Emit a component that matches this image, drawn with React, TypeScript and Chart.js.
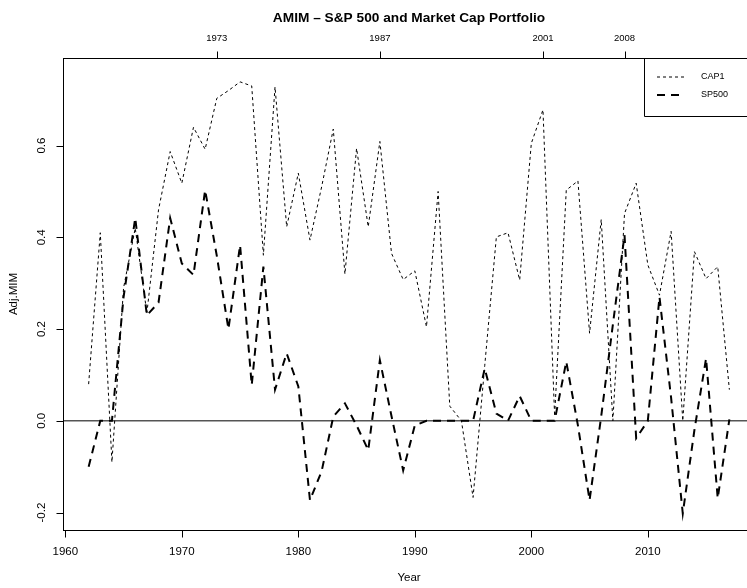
import React, { useEffect, useRef } from "react";
import { Chart, registerables } from "chart.js";

Chart.register(...registerables);

const years = [
  1962, 1963, 1964, 1965, 1966, 1967, 1968, 1969, 1970, 1971, 1972, 1973, 1974, 1975,
  1976, 1977, 1978, 1979, 1980, 1981, 1982, 1983, 1984, 1985, 1986, 1987, 1988, 1989,
  1990, 1991, 1992, 1993, 1994, 1995, 1996, 1997, 1998, 1999, 2000, 2001, 2002, 2003,
  2004, 2005, 2006, 2007, 2008, 2009, 2010, 2011, 2012, 2013, 2014, 2015, 2016, 2017,
];

const cap1 = [
  0.08, 0.41, -0.09, 0.29, 0.42, 0.235, 0.46, 0.587, 0.518, 0.64, 0.592, 0.703, 0.72, 0.739,
  0.73, 0.361, 0.728, 0.423, 0.54, 0.394, 0.51, 0.636, 0.32, 0.594, 0.423, 0.609, 0.365, 0.308,
  0.327, 0.205, 0.5, 0.032, 0.0, -0.167, 0.12, 0.401, 0.41, 0.307, 0.605, 0.678, 0.01, 0.503,
  0.523, 0.191, 0.439, 0.0, 0.452, 0.518, 0.34, 0.274, 0.413, 0.0, 0.369, 0.31, 0.336, 0.068,
];

const sp500 = [
  -0.1, 0.0, 0.0, 0.27, 0.442, 0.23, 0.258, 0.442, 0.343, 0.318, 0.503, 0.36, 0.2, 0.383,
  0.078, 0.336, 0.068, 0.147, 0.075, -0.173, -0.11, 0.009, 0.038, -0.01, -0.064, 0.132, 0.01, -0.108,
  -0.01, 0.0, 0.0, 0.0, 0.0, 0.0, 0.114, 0.016, 0.0, 0.054, 0.0, 0.0, 0.0, 0.129,
  -0.01, -0.173, 0.01, 0.21, 0.405, -0.038, 0.0, 0.27, 0.05, -0.202, -0.02, 0.136, -0.169, 0.003,
];

const bottomTicks = [1960, 1970, 1980, 1990, 2000, 2010];
const topTicks = [1973, 1987, 2001, 2008];
const yTicks = [-0.2, 0.0, 0.2, 0.4, 0.6];
const yTickLabels = ["-0.2", "0.0", "0.2", "0.4", "0.6"];

const titleText = "AMIM \u2013 S&P 500 and Market Cap Portfolio";
const xLabel = "Year";
const yLabel = "Adj.MIM";
const seriesNames = ["CAP1", "SP500"];

const FONT = "'Liberation Sans', Arial, Helvetica, sans-serif";
const CAP_DASH = [3, 3];
const SP_DASH = [8, 6];

const rAxesPlugin = {
  id: "rAxes",
  beforeDatasetsDraw(chart: any) {
    const { ctx, chartArea, scales } = chart;
    const y0 = scales.y.getPixelForValue(0);
    ctx.save();
    ctx.strokeStyle = "#555";
    ctx.lineWidth = 1.5;
    ctx.beginPath();
    ctx.moveTo(chartArea.left, y0);
    ctx.lineTo(chartArea.right, y0);
    ctx.stroke();
    ctx.restore();
  },
  afterDraw(chart: any) {
    const { ctx, chartArea, scales } = chart;
    const xs = scales.x;
    const ys = scales.y;
    const L = chartArea.left, R = chartArea.right, T = chartArea.top, B = chartArea.bottom;
    ctx.save();
    ctx.strokeStyle = "#000";
    ctx.fillStyle = "#000";
    ctx.lineWidth = 1;
    // box
    ctx.strokeRect(Math.round(L) + 0.5, Math.round(T) + 0.5, Math.round(R - L), Math.round(B - T));

    const tick = 7;
    // bottom axis
    const bx0 = xs.getPixelForValue(bottomTicks[0]);
    const bx1 = xs.getPixelForValue(bottomTicks[bottomTicks.length - 1]);
    const by = Math.round(B) + 0.5;
    ctx.beginPath();
    ctx.moveTo(bx0, by);
    ctx.lineTo(bx1, by);
    bottomTicks.forEach((t) => {
      const px = Math.round(xs.getPixelForValue(t)) + 0.5;
      ctx.moveTo(px, by);
      ctx.lineTo(px, by + tick);
    });
    ctx.stroke();
    ctx.font = `11.5px ${FONT}`;
    ctx.textAlign = "center";
    ctx.textBaseline = "middle";
    bottomTicks.forEach((t) => {
      ctx.fillText(String(t), xs.getPixelForValue(t), B + 22);
    });

    // top axis
    const tx0 = xs.getPixelForValue(topTicks[0]);
    const tx1 = xs.getPixelForValue(topTicks[topTicks.length - 1]);
    const ty = Math.round(T) + 0.5;
    ctx.beginPath();
    ctx.moveTo(tx0, ty);
    ctx.lineTo(tx1, ty);
    topTicks.forEach((t) => {
      const px = Math.round(xs.getPixelForValue(t)) + 0.5;
      ctx.moveTo(px, ty);
      ctx.lineTo(px, ty - tick);
    });
    ctx.stroke();
    ctx.font = `9.5px ${FONT}`;
    topTicks.forEach((t) => {
      ctx.fillText(String(t), xs.getPixelForValue(t), T - 20);
    });

    // left axis
    const lx = Math.round(L) + 0.5;
    ctx.beginPath();
    ctx.moveTo(lx, ys.getPixelForValue(yTicks[0]));
    ctx.lineTo(lx, ys.getPixelForValue(yTicks[yTicks.length - 1]));
    yTicks.forEach((v) => {
      const py = Math.round(ys.getPixelForValue(v)) + 0.5;
      ctx.moveTo(lx, py);
      ctx.lineTo(lx - tick, py);
    });
    ctx.stroke();
    ctx.font = `11.5px ${FONT}`;
    yTicks.forEach((v, i) => {
      ctx.save();
      ctx.translate(L - 21, ys.getPixelForValue(v));
      ctx.rotate(-Math.PI / 2);
      ctx.fillText(yTickLabels[i], 0, 0);
      ctx.restore();
    });

    // axis titles
    ctx.font = `11.5px ${FONT}`;
    ctx.fillText(xLabel, (L + R) / 2, B + 48);
    ctx.save();
    ctx.translate(L - 49, (T + B) / 2);
    ctx.rotate(-Math.PI / 2);
    ctx.fillText(yLabel, 0, 0);
    ctx.restore();

    // main title
    ctx.font = `bold 13.7px ${FONT}`;
    ctx.fillText(titleText, (L + R) / 2, T - 40);

    // legend
    const lgL = 644, lgT = Math.round(T) + 0.5, lgB = 116.5;
    ctx.lineWidth = 1;
    ctx.beginPath();
    ctx.moveTo(R, lgT);
    ctx.lineTo(lgL + 0.5, lgT);
    ctx.lineTo(lgL + 0.5, lgB);
    ctx.lineTo(R, lgB);
    ctx.stroke();
    const rows = [
      { y: 77, dash: CAP_DASH, w: 1 },
      { y: 95, dash: SP_DASH, w: 2 },
    ];
    rows.forEach((r, i) => {
      ctx.save();
      ctx.setLineDash(r.dash);
      ctx.lineWidth = r.w;
      ctx.beginPath();
      ctx.moveTo(657, r.y);
      ctx.lineTo(684, r.y);
      ctx.stroke();
      ctx.restore();
      ctx.font = `9px ${FONT}`;
      ctx.textAlign = "left";
      ctx.fillText(seriesNames[i], 701, r.y);
    });
    ctx.restore();
  },
};

export default function App() {
  const ref = useRef<HTMLCanvasElement | null>(null);
  useEffect(() => {
    if (!ref.current) return;
    const chart = new Chart(ref.current, {
      type: "line",
      data: {
        datasets: [
          {
            label: seriesNames[0],
            data: years.map((yr, i) => ({ x: yr, y: cap1[i] })),
            borderColor: "#000",
            borderWidth: 1,
            borderDash: CAP_DASH,
            pointRadius: 0,
            tension: 0,
            fill: false,
          },
          {
            label: seriesNames[1],
            data: years.map((yr, i) => ({ x: yr, y: sp500[i] })),
            borderColor: "#000",
            borderWidth: 2,
            borderDash: SP_DASH,
            pointRadius: 0,
            tension: 0,
            fill: false,
          },
        ],
      },
      options: {
        responsive: false,
        animation: false,
        devicePixelRatio: 1,
        layout: { padding: { left: 63, top: 58, right: 770 - 755, bottom: 588 - 530 } },
        plugins: { legend: { display: false }, tooltip: { enabled: false }, title: { display: false } },
        scales: {
          x: { type: "linear", display: false, min: 1959.8, max: 2019.2 },
          y: { type: "linear", display: false, min: -0.238, max: 0.791 },
        },
      },
      plugins: [rAxesPlugin],
    });
    return () => chart.destroy();
  }, []);
  return (
    <div style={{ position: "absolute", left: 0, top: 0, width: 747, height: 588, overflow: "hidden", background: "#fff" }}>
      <canvas ref={ref} width={770} height={588} style={{ display: "block" }} />
    </div>
  );
}
